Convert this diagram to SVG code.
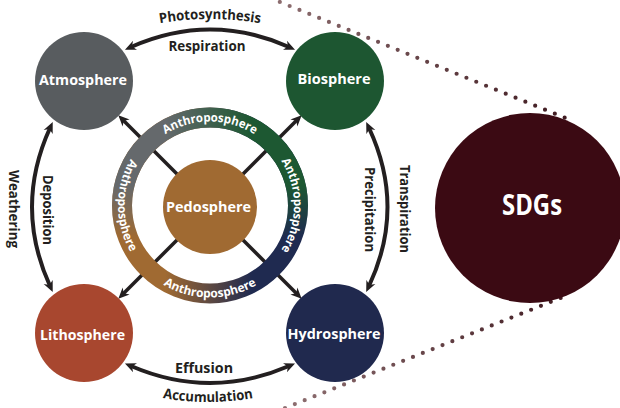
<svg xmlns="http://www.w3.org/2000/svg" width="620" height="408" viewBox="0 0 620 408">
<defs>
<style>
.lbl{font-family:"Open Sans","Liberation Sans",sans-serif;font-weight:700;fill:#231f20;font-size:14px}
.node{font-family:"Open Sans","Liberation Sans",sans-serif;font-weight:700;fill:#fff;font-size:15px;text-anchor:middle}
.ringt{font-family:"Open Sans","Liberation Sans",sans-serif;font-weight:700;fill:#fff;font-size:12px}
.arr{fill:none;stroke:#231f20;stroke-width:4}
.diag{fill:none;stroke:#231f20;stroke-width:3.5}
.dots{fill:none;stroke-width:4.2;stroke-linecap:round;stroke-dasharray:0 10.6}
</style>
<marker id="ah" viewBox="0 0 10 10" refX="4" refY="5" markerWidth="11" markerHeight="11" markerUnits="userSpaceOnUse" orient="auto-start-reverse"><path d="M0,0.5 L10,5 L0,9.5 L3,5 Z" fill="#231f20"/></marker>
<linearGradient id="gTop" gradientUnits="userSpaceOnUse" x1="270" y1="-2" x2="568" y2="119"><stop offset="0" stop-color="#8f7072"/><stop offset="1" stop-color="#3f1a20"/></linearGradient>
<linearGradient id="gBot" gradientUnits="userSpaceOnUse" x1="285" y1="408" x2="568" y2="295"><stop offset="0" stop-color="#8f7072"/><stop offset="1" stop-color="#3f1a20"/></linearGradient>
<linearGradient id="ringUp" gradientUnits="userSpaceOnUse" x1="165" y1="0" x2="252" y2="0"><stop offset="0" stop-color="#65696c"/><stop offset="1" stop-color="#1d5832"/></linearGradient>
<linearGradient id="ringLow" gradientUnits="userSpaceOnUse" x1="165" y1="0" x2="252" y2="0"><stop offset="0" stop-color="#a06a32"/><stop offset="1" stop-color="#1f2a50"/></linearGradient>
<linearGradient id="fade" gradientUnits="userSpaceOnUse" x1="0" y1="185" x2="0" y2="238"><stop offset="0" stop-color="#fff"/><stop offset="1" stop-color="#000"/></linearGradient>
<mask id="ringMask" maskUnits="userSpaceOnUse" x="100" y="95" width="220" height="220"><rect x="100" y="95" width="220" height="220" fill="url(#fade)"/></mask>
<path id="pTop" d="M126,205.5 A84,84 0 0 1 294,205.5"/>
<path id="pRight" d="M210,121.5 A84,84 0 0 1 210,289.5"/>
<path id="pBottom" d="M118,205.5 A92,92 0 0 0 302,205.5"/>
<path id="pLeft" d="M210,113.5 A92,92 0 0 0 210,297.5"/>
<path id="pPhoto" d="M150,25 Q210,13 270,25"/>
<path id="pAccu" d="M157,397 Q208,407 259,397"/>
</defs>

<g id="dotted-lines">
<path class="dots" stroke="url(#gTop)" d="M270,-2 L568,119"/>
<path class="dots" stroke="url(#gBot)" d="M285,408 L568,295"/>
</g>

<g id="connectors">
<path class="diag" d="M210,207 L123,120" marker-end="url(#ah)"/>
<path class="diag" d="M210,207 L297,120" marker-end="url(#ah)"/>
<path class="diag" d="M210,207 L123,294" marker-end="url(#ah)"/>
<path class="diag" d="M210,207 L297,294" marker-end="url(#ah)"/>
<path class="arr" d="M131,47 Q210,12 289,47" marker-start="url(#ah)" marker-end="url(#ah)"/>
<path class="arr" d="M131,366 Q210,400 289,366" marker-start="url(#ah)" marker-end="url(#ah)"/>
<path class="arr" d="M50,128 Q14,207 50,286" marker-start="url(#ah)" marker-end="url(#ah)"/>
<path class="arr" d="M369,128 Q406,207 369,286" marker-start="url(#ah)" marker-end="url(#ah)"/>
<text class="lbl"><textPath href="#pPhoto" startOffset="50%" text-anchor="middle" textLength="101" lengthAdjust="spacingAndGlyphs">Photosynthesis</textPath></text>
<text class="lbl" x="207" y="51" text-anchor="middle" textLength="77" lengthAdjust="spacingAndGlyphs">Respiration</text>
<text class="lbl" x="204" y="373" text-anchor="middle" textLength="58" lengthAdjust="spacingAndGlyphs">Effusion</text>
<text class="lbl"><textPath href="#pAccu" startOffset="50%" text-anchor="middle" textLength="91" lengthAdjust="spacingAndGlyphs">Accumulation</textPath></text>
<text class="lbl" transform="translate(42.5,210) rotate(90)" text-anchor="middle" textLength="70" lengthAdjust="spacingAndGlyphs">Deposition</text>
<text class="lbl" transform="translate(9,209) rotate(90)" text-anchor="middle" textLength="78" lengthAdjust="spacingAndGlyphs">Weathering</text>
<text class="lbl" transform="translate(365,209.5) rotate(90)" text-anchor="middle" textLength="85" lengthAdjust="spacingAndGlyphs">Precipitation</text>
<text class="lbl" transform="translate(400,209) rotate(90)" text-anchor="middle" textLength="88" lengthAdjust="spacingAndGlyphs">Transpiration</text>
</g>

<g id="anthroposphere">
<circle cx="210" cy="205.5" r="88" fill="none" stroke="url(#ringLow)" stroke-width="20"/>
<circle cx="210" cy="205.5" r="88" fill="none" stroke="url(#ringUp)" stroke-width="20" mask="url(#ringMask)"/>
<text class="ringt"><textPath href="#pTop" startOffset="50%" text-anchor="middle" textLength="94" lengthAdjust="spacingAndGlyphs">Anthroposphere</textPath></text>
<text class="ringt"><textPath href="#pRight" startOffset="50%" text-anchor="middle" textLength="94" lengthAdjust="spacingAndGlyphs">Anthroposphere</textPath></text>
<text class="ringt"><textPath href="#pBottom" startOffset="50%" text-anchor="middle" textLength="98" lengthAdjust="spacingAndGlyphs">Anthroposphere</textPath></text>
<text class="ringt"><textPath href="#pLeft" startOffset="50%" text-anchor="middle" textLength="98" lengthAdjust="spacingAndGlyphs">Anthroposphere</textPath></text>
</g>

<g id="pedosphere">
<circle cx="210" cy="207" r="47" fill="#a06a32"/>
<text class="node" x="208.5" y="212" textLength="85" lengthAdjust="spacingAndGlyphs">Pedosphere</text>
</g>

<g id="atmosphere">
<circle cx="84" cy="81" r="49" fill="#585c5f"/>
<text class="node" x="83" y="85" textLength="88" lengthAdjust="spacingAndGlyphs">Atmosphere</text>
</g>

<g id="biosphere">
<circle cx="335" cy="81" r="49" fill="#1d5631"/>
<text class="node" x="334" y="84" textLength="73" lengthAdjust="spacingAndGlyphs">Biosphere</text>
</g>

<g id="lithosphere">
<circle cx="84" cy="333" r="49" fill="#a8472f"/>
<text class="node" x="82.5" y="340" textLength="85" lengthAdjust="spacingAndGlyphs">Lithosphere</text>
</g>

<g id="hydrosphere">
<circle cx="335" cy="333" r="49" fill="#20294e"/>
<text class="node" x="334" y="339" textLength="93" lengthAdjust="spacingAndGlyphs">Hydrosphere</text>
</g>

<g id="sdgs">
<circle cx="530" cy="208" r="95" fill="#3b0a13"/>
<text class="node" x="532" y="215" style="font-size:28px" textLength="60" lengthAdjust="spacingAndGlyphs">SDGs</text>
</g>
</svg>
